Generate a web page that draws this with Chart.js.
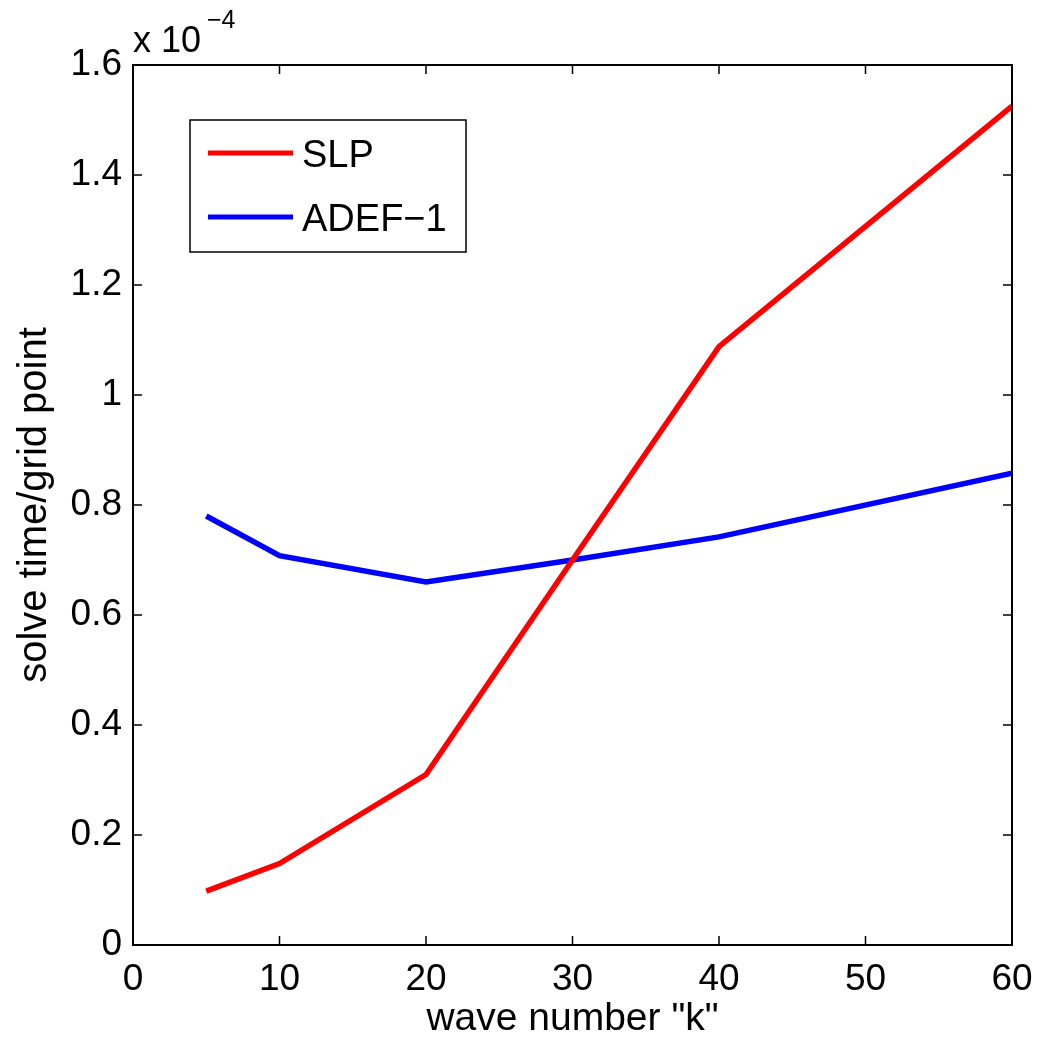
<!DOCTYPE html>
<html><head><meta charset="utf-8">
<script src="https://cdn.jsdelivr.net/npm/chart.js@4/dist/chart.umd.min.js"></script>
<style>html,body{margin:0;padding:0;background:#fff}#wrap{width:1037px;height:1037px}</style>
</head><body><div id="wrap"><canvas id="c" width="1037" height="1037"></canvas></div>
<script>
const kValues = [5, 10, 20, 30, 40, 60];
const slpValues = [0.098, 0.148, 0.31, 0.70, 1.088, 1.525];
const adefValues = [0.78, 0.708, 0.66, 0.70, 0.742, 0.858];
const seriesNames = ["SLP", "ADEF-1"];
const xTicks = [0, 10, 20, 30, 40, 50, 60];
const yTicks = [0, 0.2, 0.4, 0.6, 0.8, 1, 1.2, 1.4, 1.6];
const FONT = "'Liberation Sans', Arial, Helvetica, sans-serif";

const decor = {
  id: 'decor',
  afterDraw(chart) {
    const ctx = chart.ctx, a = chart.chartArea;
    const xs = chart.scales.x, ys = chart.scales.y;
    ctx.save();
    ctx.strokeStyle = '#000'; ctx.lineWidth = 1.5;
    ctx.beginPath();
    xTicks.forEach(v => { const px = xs.getPixelForValue(v);
      ctx.moveTo(px, a.bottom); ctx.lineTo(px, a.bottom - 9);
      ctx.moveTo(px, a.top); ctx.lineTo(px, a.top + 9); });
    yTicks.forEach(v => { const py = ys.getPixelForValue(v);
      ctx.moveTo(a.left, py); ctx.lineTo(a.left + 9, py);
      ctx.moveTo(a.right, py); ctx.lineTo(a.right - 9, py); });
    ctx.stroke();
    ctx.lineWidth = 2;
    ctx.strokeRect(a.left, a.top, a.right - a.left, a.bottom - a.top);
    // exponent label
    ctx.fillStyle = '#000';
    ctx.textAlign = 'left'; ctx.textBaseline = 'alphabetic';
    ctx.font = '36px ' + FONT;
    ctx.fillText('x 10', 133, 52);
    ctx.font = '25px ' + FONT;
    ctx.fillText('\u22124', 207, 28);
    // legend
    ctx.fillStyle = '#fff';
    ctx.fillRect(190, 120, 276, 132);
    ctx.lineWidth = 1.5; ctx.strokeStyle = '#000';
    ctx.strokeRect(190, 120, 276, 132);
    const items = [[seriesNames[0], '#ff0000', 153], [seriesNames[1], '#0000ff', 217]];
    items.forEach(([name, col, y]) => {
      ctx.strokeStyle = col; ctx.lineWidth = 5;
      ctx.beginPath(); ctx.moveTo(208, y); ctx.lineTo(293, y); ctx.stroke();
      ctx.fillStyle = '#000'; ctx.font = '38px ' + FONT;
      ctx.textBaseline = 'alphabetic';
      ctx.fillText(name.replace('-', '\u2212'), 302, y + 14);
    });
    ctx.restore();
  }
};

new Chart(document.getElementById('c'), {
  type: 'line',
  data: {
    datasets: [
      { label: seriesNames[0], data: kValues.map((k, i) => ({x: k, y: slpValues[i]})),
        borderColor: '#ff0000', borderWidth: 5.5, pointRadius: 0, tension: 0, fill: false },
      { label: seriesNames[1], data: kValues.map((k, i) => ({x: k, y: adefValues[i]})),
        borderColor: '#0000ff', borderWidth: 5.5, pointRadius: 0, tension: 0, fill: false }
    ]
  },
  options: {
    responsive: false, animation: false, devicePixelRatio: 1,
    layout: { padding: { top: 65, right: 25, left: 0, bottom: 0 } },
    plugins: { legend: { display: false }, tooltip: { enabled: false } },
    scales: {
      x: {
        type: 'linear', min: 0, max: 60,
        afterBuildTicks: s => { s.ticks = xTicks.map(v => ({value: v})); },
        afterFit: s => { s.height = 92; s.paddingLeft = 0; s.paddingRight = 0; },
        grid: { display: false, drawTicks: false },
        border: { display: false },
        ticks: { color: '#000', font: { family: FONT, size: 37 }, padding: 13, maxRotation: 0,
          callback: v => String(v) },
        title: { display: true, text: 'wave number "k"', color: '#000',
          font: { family: FONT, size: 39, lineHeight: 1.0 }, padding: { top: 0, bottom: -2 } }
      },
      y: {
        type: 'linear', min: 0, max: 1.6,
        afterBuildTicks: s => { s.ticks = yTicks.map(v => ({value: v})); },
        afterFit: s => { s.width = 133; s.paddingTop = 0; s.paddingBottom = 0; },
        grid: { display: false, drawTicks: false },
        border: { display: false },
        ticks: { color: '#000', font: { family: FONT, size: 37 }, padding: 11,
          callback: v => String(Math.round(v * 10) / 10) },
        title: { display: true, text: 'solve time/grid point', color: '#000',
          font: { family: FONT, size: 40, lineHeight: 1.2 }, padding: { top: 11, bottom: 0 } }
      }
    }
  },
  plugins: [decor]
});
</script></body></html>
